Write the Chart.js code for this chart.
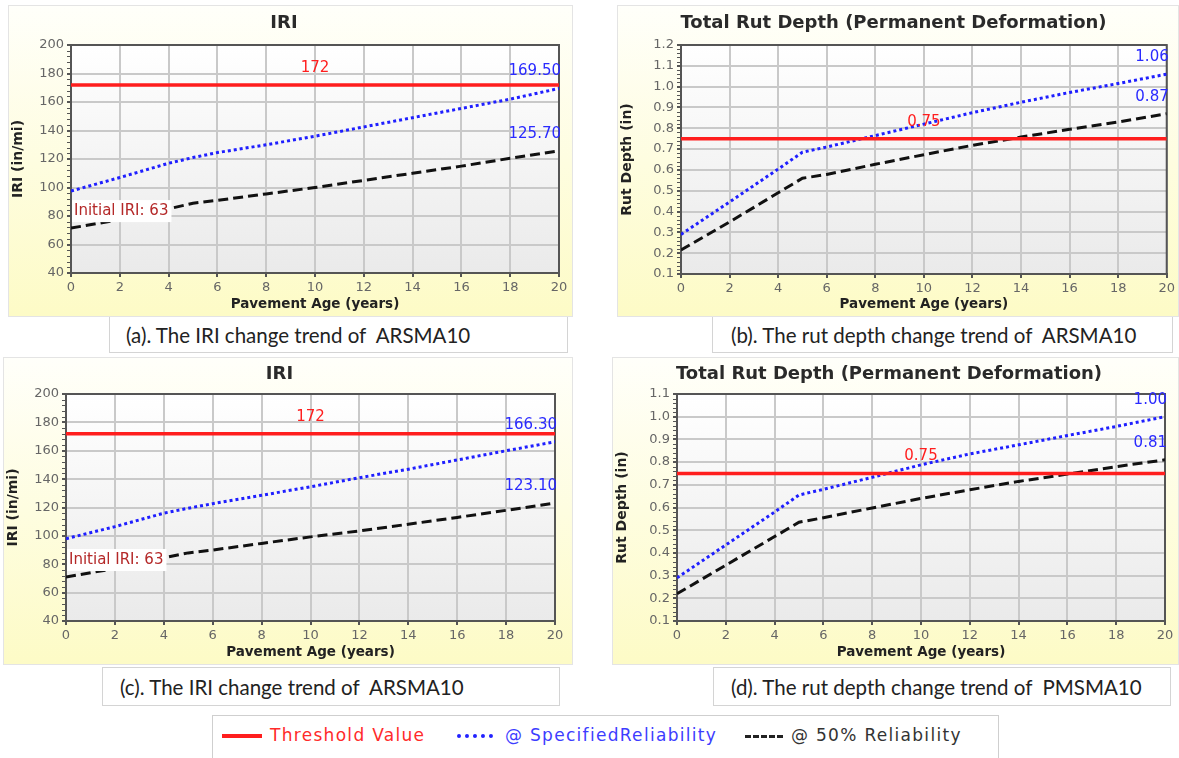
<!DOCTYPE html>
<html>
<head>
<meta charset="utf-8">
<title>IRI and rut depth trends</title>
<script src="https://cdn.jsdelivr.net/npm/chart.js@4.4.0/dist/chart.umd.min.js"></script>
<style>
    body {
        margin: 0;
        width: 1179px;
        height: 758px;
        position: relative;
        overflow: hidden;
        background: #fff;
    }
    .panel {
        position: absolute;
        box-sizing: border-box;
        border: 1px solid #e4e4e4;
        background: linear-gradient(#fffffa, #fdfbc6);
    }
    .panel canvas { display: block; }
    .caption {
        position: absolute;
        box-sizing: border-box;
        border: 1px solid #d4d4d4;
        border-top: none;
        background: #fff;
        font-family: Lato, "Open Sans", sans-serif;
        font-size: 20.5px;
        color: #222;
        white-space: pre;
    }
    .legend {
        position: absolute;
        left: 212px;
        top: 715px;
        width: 787px;
        height: 50px;
        box-sizing: border-box;
        border: 1px solid #cfcfcf;
        font-family: "DejaVu Sans", sans-serif;
        font-size: 17px;
        letter-spacing: 1.3px;
    }
    .legend span { position: absolute; white-space: pre; }
</style>
</head>
<body>

<div class="panel" id="panel-a" style="left:8px;top:5px;width:565px;height:312px"><canvas id="chart-a" width="563" height="310"></canvas></div>
<div class="panel" id="panel-b" style="left:617px;top:5px;width:562px;height:312px"><canvas id="chart-b" width="560" height="310"></canvas></div>
<div class="panel" id="panel-c" style="left:3px;top:357px;width:570px;height:308px"><canvas id="chart-c" width="568" height="306"></canvas></div>
<div class="panel" id="panel-d" style="left:612px;top:357px;width:567px;height:308px"><canvas id="chart-d" width="565" height="306"></canvas></div>

<div class="caption" id="cap-a" style="left:109px;top:317px;width:459px;height:36px;padding:6px 0 0 16px"></div>
<div class="caption" id="cap-b" style="left:712px;top:317px;width:461px;height:36px;padding:6px 0 0 18px"></div>
<div class="caption" id="cap-c" style="left:102px;top:667px;width:458px;height:39px;border-top:1px solid #d4d4d4;padding:7px 0 0 17px"></div>
<div class="caption" id="cap-d" style="left:713px;top:667px;width:458px;height:39px;border-top:1px solid #d4d4d4;padding:7px 0 0 17px"></div>

<div class="legend">
    <span style="left:9px;top:18px;width:40px;height:4px;background:#ff1e1e"></span>
    <span id="leg-0" style="left:57px;top:9px;color:#ff2a2a"></span>
    <span style="left:244px;top:18px;width:36px;height:0;border-top:4px dotted #2222ff"></span>
    <span id="leg-1" style="left:292px;top:9px;color:#3d3dff"></span>
    <span style="left:532px;top:19px;width:38px;height:0;border-top:3px dashed #222"></span>
    <span id="leg-2" style="left:578px;top:9px;color:#333"></span>
</div>

<script>
// ---- data ----
const YEARS = [0, 2, 4, 5, 6, 8, 10, 12, 14, 16, 18, 20];

const IRI_THRESHOLD = 172;
const RUT_THRESHOLD = 0.75;
const INITIAL_IRI = 63;

// (a) IRI, ARSMA10
const IRI_A_SPECIFIED = [97.5, 107, 117, 121, 124.5, 130, 136, 142.5, 149, 155.5, 162, 169.5];
const IRI_A_MEDIAN = [71.5, 77.5, 85, 89, 91, 95.5, 100, 105, 110, 115, 120.5, 125.7];

// (b) rut depth, ARSMA10
const RUT_B_SPECIFIED = [0.29, 0.446, 0.604, 0.685, 0.71, 0.765, 0.82, 0.875, 0.925, 0.972, 1.015, 1.06];
const RUT_B_MEDIAN = [0.215, 0.35, 0.49, 0.56, 0.578, 0.627, 0.673, 0.718, 0.758, 0.795, 0.83, 0.87];

// (c) IRI, ARSMA10
const IRI_C_SPECIFIED = [98, 106.5, 116, 119.5, 122.7, 128.6, 134.6, 141, 147, 153.5, 160, 166.3];
const IRI_C_MEDIAN = [71, 77, 84.5, 88, 90, 94.7, 99.3, 103.5, 108.2, 113, 118, 123.1];

// (d) rut depth, PMSMA10
const RUT_D_SPECIFIED = [0.29, 0.435, 0.58, 0.655, 0.68, 0.733, 0.788, 0.836, 0.876, 0.917, 0.957, 1.00];
const RUT_D_MEDIAN = [0.22, 0.346, 0.472, 0.535, 0.555, 0.598, 0.64, 0.678, 0.715, 0.747, 0.78, 0.81];

const SERIES_NAMES = ['Threshold Value', '@ SpecifiedReliability', '@ 50% Reliability'];
const CAPTIONS = [
    '(a). The IRI change trend of  ARSMA10',
    '(b). The rut depth change trend of  ARSMA10',
    '(c). The IRI change trend of  ARSMA10',
    '(d). The rut depth change trend of  PMSMA10'
];

// ---- colours ----
const RED = '#ff1e1e';
const BLUE = '#1f1fff';
const BLACK = '#111111';
const NOTE_BLUE = '#2a2aff';
const NOTE_DARKRED = '#b42828';

const TITLE_SIZE = 18;

/**
 * Plot background, frame, minor y ticks and value notes
 */
const panelDecor = {
    id: 'panelDecor',
    beforeDraw(chart) {
        const { ctx, chartArea: a } = chart;
        const g = ctx.createLinearGradient(0, a.top, 0, a.bottom);
        g.addColorStop(0, '#ffffff');
        g.addColorStop(1, '#eaeaea');
        ctx.save();
        ctx.fillStyle = g;
        ctx.fillRect(a.left, a.top, a.width, a.height);
        ctx.restore();
    },
    beforeDatasetsDraw(chart) {
        const { ctx, chartArea: a, scales: { y } } = chart;
        ctx.save();
        ctx.strokeStyle = '#555';
        ctx.lineWidth = 2;
        ctx.strokeRect(a.left, a.top, a.width, a.height);

        // minor ticks on the y axis
        ctx.lineWidth = 1;
        const ticks = y.ticks;
        for (let i = 0; i < ticks.length - 1; i++) {
            const v0 = ticks[i].value;
            const v1 = ticks[i + 1].value;
            for (let k = 1; k < 5; k++) {
                const py = Math.round(y.getPixelForValue(v0 + (v1 - v0) * k / 5)) + 0.5;
                ctx.beginPath();
                ctx.moveTo(a.left - 4, py);
                ctx.lineTo(a.left, py);
                ctx.stroke();
            }
        }
        ctx.restore();
    },
    afterDatasetsDraw(chart, args, opts) {
        const { ctx, chartArea: a, scales: { x, y } } = chart;
        ctx.save();
        ctx.font = '15px "DejaVu Sans"';
        ctx.textBaseline = 'middle';
        (opts.notes || []).forEach(note => {
            const py = y.getPixelForValue(note.y) - 17;
            let px = x.getPixelForValue(note.x);
            ctx.textAlign = note.align || 'center';
            if (note.align === 'right') px = a.right + 2;
            if (note.align === 'left') px = a.left + 3;
            if (note.box) {
                const w = ctx.measureText(note.text).width;
                ctx.fillStyle = '#ffffff';
                ctx.fillRect(px - 2, py - 11, w + 5, 22);
            }
            ctx.fillStyle = note.color;
            ctx.fillText(note.text, px, py);
        });
        ctx.restore();
    }
};

/**
 * Build one panel chart
 */
function makeChart(id, cfg) {
    const canvas = document.getElementById(id);
    const W = canvas.width;
    const H = canvas.height;
    const pts = vals => YEARS.map((yr, i) => ({ x: yr, y: vals[i] }));
    const tickFont = { family: 'DejaVu Sans', size: 13 };
    const titleLine = TITLE_SIZE * 1.2;

    return new Chart(canvas.getContext('2d'), {
        type: 'line',
        data: {
            datasets: [
                {
                    label: SERIES_NAMES[0],
                    data: [{ x: 0, y: cfg.threshold }, { x: 20, y: cfg.threshold }],
                    borderColor: RED,
                    borderWidth: 3.5
                },
                {
                    label: SERIES_NAMES[1],
                    data: pts(cfg.specified),
                    borderColor: BLUE,
                    borderWidth: 3,
                    borderDash: [3, 3]
                },
                {
                    label: SERIES_NAMES[2],
                    data: pts(cfg.median),
                    borderColor: BLACK,
                    borderWidth: 3,
                    borderDash: [10, 5]
                }
            ]
        },
        options: {
            responsive: false,
            animation: false,
            elements: { point: { radius: 0 }, line: { tension: 0 } },
            layout: { padding: { left: 0, right: W - cfg.plot.right, top: 0, bottom: 0 } },
            plugins: {
                legend: { display: false },
                tooltip: { enabled: false },
                title: {
                    display: true,
                    text: cfg.title,
                    color: '#2a2a2a',
                    font: { family: 'DejaVu Sans', size: TITLE_SIZE, weight: 'bold' },
                    padding: { top: cfg.titleTop, bottom: cfg.plot.top - titleLine - cfg.titleTop }
                },
                panelDecor: { notes: cfg.notes }
            },
            scales: {
                x: {
                    type: 'linear',
                    min: 0,
                    max: 20,
                    ticks: { stepSize: 2, color: '#666', font: tickFont, padding: 3 },
                    grid: { color: '#c9c9c9', lineWidth: 2, tickLength: 4, tickColor: '#555' },
                    border: { color: '#555', width: 2 },
                    title: {
                        display: true,
                        text: 'Pavement Age (years)',
                        color: '#222',
                        font: { family: 'DejaVu Sans', size: 13.5, weight: 'bold' },
                        padding: { top: 0, bottom: 3 }
                    },
                    afterFit(scale) { scale.height = H - cfg.plot.bottom; }
                },
                y: {
                    min: cfg.yMin,
                    max: cfg.yMax,
                    ticks: { stepSize: cfg.yStep, color: '#666', font: tickFont, padding: 3 },
                    grid: { color: '#c9c9c9', lineWidth: 2, tickLength: 4, tickColor: '#555' },
                    border: { color: '#555', width: 2 },
                    title: {
                        display: true,
                        text: cfg.yTitle,
                        color: '#222',
                        font: { family: 'DejaVu Sans', size: 14, weight: 'bold' },
                        padding: { top: 1, bottom: 0 }
                    },
                    afterFit(scale) { scale.width = cfg.plot.left; }
                }
            }
        },
        plugins: [panelDecor]
    });
}

function iriNotes(specified, median) {
    return [
        { text: String(IRI_THRESHOLD), x: 10, y: IRI_THRESHOLD, color: RED },
        { text: specified[specified.length - 1].toFixed(2), x: 20, y: specified[specified.length - 1], color: NOTE_BLUE, align: 'right' },
        { text: median[median.length - 1].toFixed(2), x: 20, y: median[median.length - 1], color: NOTE_BLUE, align: 'right' },
        { text: 'Initial IRI: ' + INITIAL_IRI, x: 0, y: median[0], color: NOTE_DARKRED, align: 'left', box: true }
    ];
}

function rutNotes(specified, median) {
    return [
        { text: RUT_THRESHOLD.toFixed(2), x: 10, y: RUT_THRESHOLD, color: RED },
        { text: specified[specified.length - 1].toFixed(2), x: 20, y: specified[specified.length - 1], color: NOTE_BLUE, align: 'right' },
        { text: median[median.length - 1].toFixed(2), x: 20, y: median[median.length - 1], color: NOTE_BLUE, align: 'right' }
    ];
}

makeChart('chart-a', {
    title: 'IRI', yTitle: 'IRI (in/mi)', yMin: 40, yMax: 200, yStep: 20,
    threshold: IRI_THRESHOLD, specified: IRI_A_SPECIFIED, median: IRI_A_MEDIAN,
    notes: iriNotes(IRI_A_SPECIFIED, IRI_A_MEDIAN),
    plot: { left: 62, right: 550, top: 39, bottom: 267 }, titleTop: 7
});

makeChart('chart-b', {
    title: 'Total Rut Depth (Permanent Deformation)', yTitle: 'Rut Depth (in)', yMin: 0.1, yMax: 1.2, yStep: 0.1,
    threshold: RUT_THRESHOLD, specified: RUT_B_SPECIFIED, median: RUT_B_MEDIAN,
    notes: rutNotes(RUT_B_SPECIFIED, RUT_B_MEDIAN),
    plot: { left: 63, right: 551, top: 39, bottom: 268 }, titleTop: 7
});

makeChart('chart-c', {
    title: 'IRI', yTitle: 'IRI (in/mi)', yMin: 40, yMax: 200, yStep: 20,
    threshold: IRI_THRESHOLD, specified: IRI_C_SPECIFIED, median: IRI_C_MEDIAN,
    notes: iriNotes(IRI_C_SPECIFIED, IRI_C_MEDIAN),
    plot: { left: 62, right: 551, top: 36, bottom: 263 }, titleTop: 6
});

makeChart('chart-d', {
    title: 'Total Rut Depth (Permanent Deformation)', yTitle: 'Rut Depth (in)', yMin: 0.1, yMax: 1.1, yStep: 0.1,
    threshold: RUT_THRESHOLD, specified: RUT_D_SPECIFIED, median: RUT_D_MEDIAN,
    notes: rutNotes(RUT_D_SPECIFIED, RUT_D_MEDIAN),
    plot: { left: 64, right: 552, top: 36, bottom: 263 }, titleTop: 6
});

// captions and shared legend
['cap-a', 'cap-b', 'cap-c', 'cap-d'].forEach((id, i) => {
    document.getElementById(id).textContent = CAPTIONS[i];
});
SERIES_NAMES.forEach((name, i) => {
    document.getElementById('leg-' + i).textContent = name;
});
</script>
</body>
</html>
